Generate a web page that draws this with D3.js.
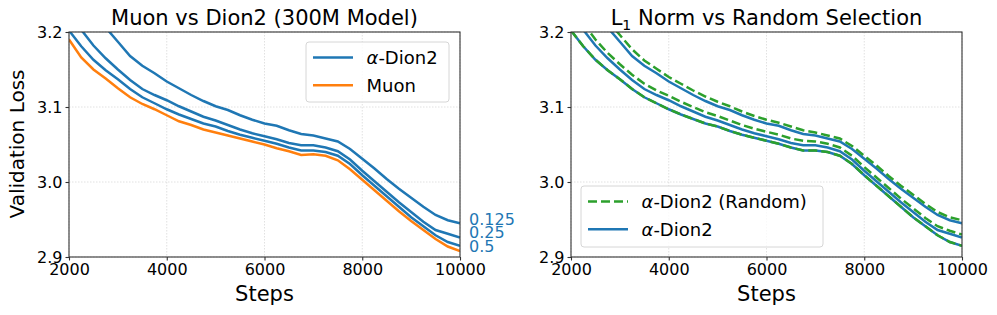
<!DOCTYPE html>
<html>
<head>
<meta charset="utf-8">
<script src="https://cdn.jsdelivr.net/npm/d3@7"></script>
<style>
  body { margin: 0; background: #fff; }
  text { font-family: "DejaVu Sans", sans-serif; fill: #000; }
  .grid line { stroke: #d9d9d9; stroke-width: 0.8; stroke-dasharray: 1.5,1.5; }
  .axis path, .axis line { stroke: #333; stroke-width: 1.1; }
  .axis text { font-size: 16px; }
</style>
</head>
<body>
<div id="chart"></div>
<script>
(function () {'use strict';

// x ticks / y ticks
var xTicks = [2000, 4000, 6000, 8000, 10000];
var yTicks = [2.9, 3.0, 3.1, 3.2];

// steps for each series
var steps = [2000, 2250, 2500, 2750, 3000, 3250, 3500, 3750, 4000, 4250, 4500, 4750,
             5000, 5250, 5500, 5750, 6000, 6250, 6500, 6750, 7000, 7250, 7500, 7750,
             8000, 8250, 8500, 8750, 9000, 9250, 9500, 9750, 10000];

// null = above the visible range
var muon = [3.190, 3.166, 3.150, 3.138, 3.125, 3.113, 3.104, 3.097, 3.089, 3.081, 3.076, 3.070,
            3.066, 3.062, 3.058, 3.054, 3.050, 3.045, 3.041, 3.036, 3.037, 3.035, 3.029, 3.017,
            3.003, 2.989, 2.975, 2.961, 2.948, 2.936, 2.924, 2.914, 2.908];

var dion2_0125 = [null, null, null, 3.206, 3.187, 3.168, 3.155, 3.145, 3.134, 3.125, 3.116, 3.108,
                  3.101, 3.096, 3.089, 3.083, 3.078, 3.075, 3.069, 3.064, 3.062, 3.058, 3.054, 3.044,
                  3.031, 3.018, 3.004, 2.991, 2.979, 2.967, 2.956, 2.949, 2.945];

var dion2_025 = [null, 3.203, 3.182, 3.165, 3.150, 3.136, 3.124, 3.116, 3.109, 3.101, 3.094, 3.087,
                 3.082, 3.076, 3.070, 3.065, 3.061, 3.057, 3.052, 3.049, 3.049, 3.046, 3.041, 3.030,
                 3.015, 3.001, 2.987, 2.973, 2.960, 2.947, 2.936, 2.931, 2.926];

var dion2_05 = [3.202, 3.181, 3.163, 3.149, 3.137, 3.124, 3.113, 3.105, 3.097, 3.090, 3.084, 3.078,
                3.074, 3.068, 3.063, 3.059, 3.055, 3.051, 3.046, 3.042, 3.042, 3.040, 3.035, 3.024,
                3.009, 2.995, 2.981, 2.967, 2.953, 2.941, 2.929, 2.920, 2.915];

var random_0125 = [null, null, null, 3.215, 3.196, 3.177, 3.162, 3.151, 3.140, 3.131, 3.122, 3.114,
                   3.107, 3.101, 3.094, 3.088, 3.083, 3.079, 3.074, 3.069, 3.066, 3.062, 3.058, 3.048,
                   3.035, 3.022, 3.008, 2.995, 2.983, 2.971, 2.960, 2.953, 2.949];

var random_025 = [null, 3.212, 3.190, 3.172, 3.157, 3.143, 3.131, 3.122, 3.115, 3.107, 3.100, 3.093,
                  3.088, 3.082, 3.076, 3.071, 3.067, 3.063, 3.058, 3.055, 3.054, 3.051, 3.046, 3.035,
                  3.020, 3.006, 2.992, 2.978, 2.965, 2.952, 2.941, 2.935, 2.930];

var random_05 = [3.202, 3.181, 3.163, 3.149, 3.137, 3.124, 3.113, 3.105, 3.097, 3.090, 3.084, 3.078,
                 3.074, 3.068, 3.063, 3.059, 3.055, 3.051, 3.046, 3.042, 3.042, 3.040, 3.035, 3.024,
                 3.009, 2.995, 2.981, 2.967, 2.953, 2.941, 2.929, 2.920, 2.915];

var alphaLabels = ['0.125', '0.25', '0.5'];

var BLUE = '#1f77b4', ORANGE = '#ff7f0e', GREEN = '#2ca02c';

var W = 997, H = 315,
    top = 32, bottom = 257,
    lineWidth = 2.5;

var svg = d3.select('#chart').append('svg')
    .attr('width', W)
    .attr('height', H);

function zip(vals) {
    return steps.map(function (s, i) { return [s, vals[i]]; });
}

function panel(id, left, right, title) {
    var x = d3.scaleLinear().domain([2000, 10000]).range([left, right]),
        y = d3.scaleLinear().domain([2.9, 3.2]).range([bottom, top]);

    var g = svg.append('g').attr('class', 'panel ' + id);

    // grid
    var grid = g.append('g').attr('class', 'grid');
    grid.selectAll('.gx').data(xTicks).enter().append('line')
        .attr('x1', x).attr('x2', x).attr('y1', top).attr('y2', bottom);
    grid.selectAll('.gy').data(yTicks).enter().append('line')
        .attr('y1', y).attr('y2', y).attr('x1', left).attr('x2', right);

    g.append('clipPath').attr('id', 'clip-' + id)
        .append('rect')
            .attr('x', left).attr('y', top)
            .attr('width', right - left).attr('height', bottom - top);

    var line = d3.line()
        .defined(function (d) { return d[1] !== null; })
        .x(function (d) { return x(d[0]); })
        .y(function (d) { return y(d[1]); });

    var lines = g.append('g').attr('clip-path', 'url(#clip-' + id + ')');

    // axes
    g.append('g')
        .attr('class', 'axis x')
        .attr('transform', 'translate(0,' + bottom + ')')
        .call(d3.axisBottom(x).tickValues(xTicks).tickSize(3.5).tickPadding(3).tickFormat(d3.format('d')));

    g.append('g')
        .attr('class', 'axis y')
        .attr('transform', 'translate(' + left + ',0)')
        .call(d3.axisLeft(y).tickValues(yTicks).tickSize(3.5).tickPadding(3).tickFormat(d3.format('.1f')));

    g.selectAll('.axis .domain').remove();
    g.append('rect')
        .attr('x', left).attr('y', top)
        .attr('width', right - left).attr('height', bottom - top)
        .attr('fill', 'none').attr('stroke', '#333').attr('stroke-width', 1.1);

    var t = g.append('text')
        .attr('x', (left + right) / 2)
        .attr('y', 25)
        .attr('text-anchor', 'middle')
        .style('font-size', '21px');
    title(t);

    g.append('text')
        .attr('x', (left + right) / 2)
        .attr('y', 301)
        .attr('text-anchor', 'middle')
        .style('font-size', '21px')
        .text('Steps');

    return { g: g, x: x, y: y, line: line, lines: lines };
}

function drawSeries(p, vals, color, dashed) {
    p.lines.append('path')
        .datum(zip(vals))
        .attr('d', p.line)
        .attr('fill', 'none')
        .attr('stroke', color)
        .attr('stroke-width', lineWidth)
        .attr('stroke-dasharray', dashed ? '9,4' : null);
}

function legend(g, x0, y0, w, h, items) {
    g.append('rect')
        .attr('x', x0).attr('y', y0)
        .attr('width', w).attr('height', h)
        .attr('rx', 3)
        .attr('fill', '#fff').attr('fill-opacity', 0.8)
        .attr('stroke', '#d6d6d6').attr('stroke-width', 1);
    items.forEach(function (it, i) {
        var cy = y0 + 15.5 + i * 27.7;
        g.append('line')
            .attr('x1', x0 + 7).attr('x2', x0 + 47)
            .attr('y1', cy).attr('y2', cy)
            .attr('stroke', it.color)
            .attr('stroke-width', lineWidth)
            .attr('stroke-dasharray', it.dashed ? '9,4' : null);
        var tx = g.append('text')
            .attr('x', x0 + 60.5)
            .attr('y', cy + 6.5)
            .style('font-size', '18px');
        if (it.alpha) {
            tx.append('tspan').style('font-style', 'italic').text('\u03b1');
            tx.append('tspan').text(it.label);
        } else {
            tx.text(it.label);
        }
    });
}

// ---- left panel: Muon vs Dion2
var pl = panel('left', 69, 460, function (t) { t.text('Muon vs Dion2 (300M Model)'); });
drawSeries(pl, muon, ORANGE);
drawSeries(pl, dion2_05, BLUE);
drawSeries(pl, dion2_025, BLUE);
drawSeries(pl, dion2_0125, BLUE);

pl.g.append('text')
    .attr('transform', 'translate(24,144) rotate(-90)')
    .attr('text-anchor', 'middle')
    .style('font-size', '20px')
    .text('Validation Loss');

// alpha labels at the line ends
var ends = [dion2_0125, dion2_025, dion2_05],
    nudge = [-4, -5, 1];
ends.forEach(function (vals, i) {
    pl.g.append('text')
        .attr('x', 469)
        .attr('y', pl.y(vals[vals.length - 1]) + nudge[i])
        .attr('dy', '0.35em')
        .style('font-size', '16px')
        .style('fill', BLUE)
        .text(alphaLabels[i]);
});

legend(pl.g, 306, 42, 143, 60, [
    { label: '-Dion2', alpha: true, color: BLUE },
    { label: 'Muon', color: ORANGE }
]);

// ---- right panel: L1 norm vs random
var pr = panel('right', 571, 962, function (t) {
    t.append('tspan').text('L');
    t.append('tspan').attr('dy', 5).style('font-size', '14px').text('1');
    t.append('tspan').attr('dy', -5).text(' Norm vs Random Selection');
});
drawSeries(pr, dion2_05, BLUE);
drawSeries(pr, dion2_025, BLUE);
drawSeries(pr, dion2_0125, BLUE);
drawSeries(pr, random_05, GREEN, true);
drawSeries(pr, random_025, GREEN, true);
drawSeries(pr, random_0125, GREEN, true);

legend(pr.g, 581, 186, 242, 61, [
    { label: '-Dion2 (Random)', alpha: true, color: GREEN, dashed: true },
    { label: '-Dion2', alpha: true, color: BLUE }
]);

})();
</script>
</body>
</html>
